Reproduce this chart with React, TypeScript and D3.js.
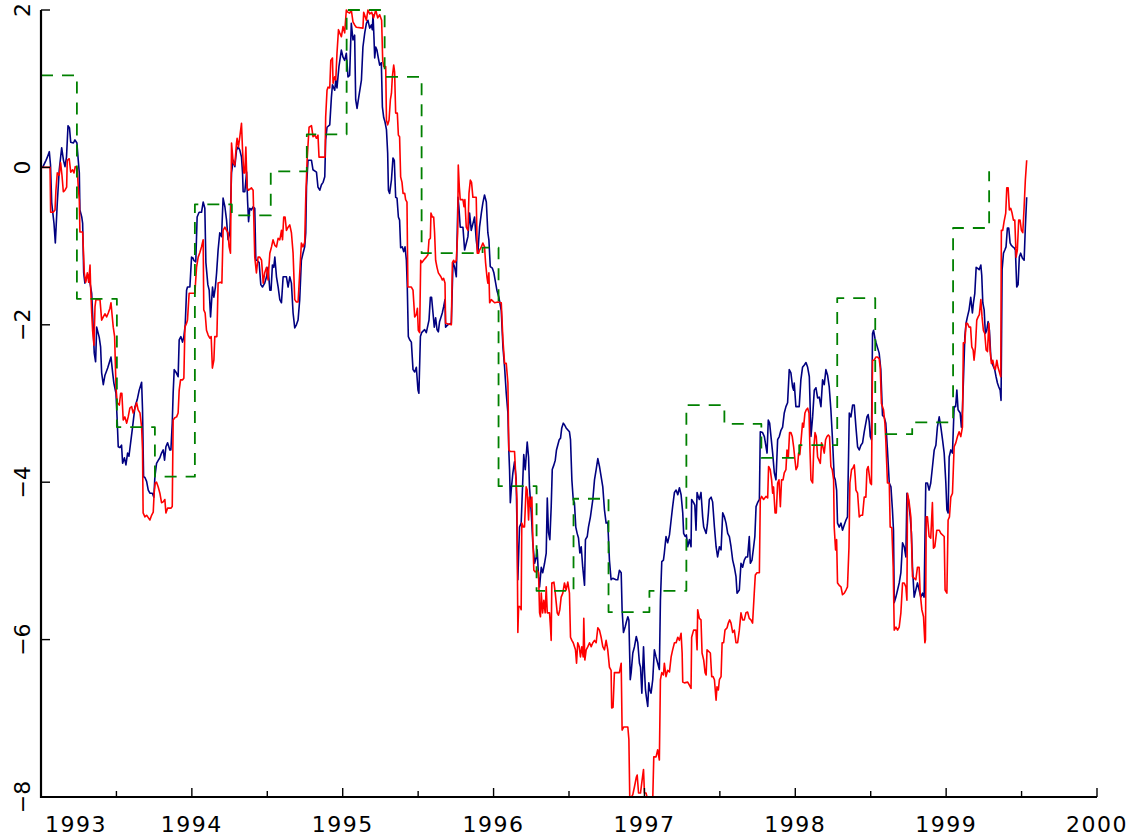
import React, { useEffect } from "react";
import * as d3 from "d3";

const xTickYears = [1993, 1994, 1995, 1996, 1997, 1998, 1999, 2000];
const xMinorTicks = [1993.5, 1994.5, 1995.5, 1996.5, 1997.5, 1998.5, 1999.5];
const yTickValues = [-8, -6, -4, -2, 0, 2];

// quarterly step series (green dashed)
const greenSteps: [number, number][] = [[1993.0,1.17],[1993.238,-1.67],[1993.503,-3.30],[1993.755,-3.93],[1994.020,-0.47],[1994.265,-0.61],[1994.523,-0.05],[1994.762,0.42],[1995.026,2.0],[1995.278,1.15],[1995.523,-1.09],[1995.927,-1.02],[1996.033,-4.05],[1996.285,-5.38],[1996.530,-4.21],[1996.762,-5.65],[1997.033,-5.38],[1997.278,-3.02],[1997.530,-3.26],[1997.775,-3.69],[1998.026,-3.53],[1998.278,-1.66],[1998.530,-3.39],[1998.775,-3.24],[1999.046,-0.77],[1999.285,-0.05]];

// blue series
const blueSeries: [number, number][] = [[1993.011,0.00],[1993.033,0.09],[1993.042,0.13],[1993.055,0.20],[1993.063,0.03],[1993.071,-0.45],[1993.086,-0.71],[1993.095,-0.96],[1993.108,-0.45],[1993.121,-0.03],[1993.137,0.25],[1993.149,0.09],[1993.159,0.01],[1993.169,0.13],[1993.179,0.53],[1993.189,0.50],[1993.197,0.32],[1993.215,0.31],[1993.225,0.35],[1993.238,0.31],[1993.247,0.09],[1993.254,-0.07],[1993.258,-0.54],[1993.270,-0.63],[1993.276,-0.71],[1993.283,-1.34],[1993.291,-1.47],[1993.305,-1.39],[1993.315,-1.37],[1993.325,-1.47],[1993.336,-1.60],[1993.346,-2.03],[1993.353,-2.36],[1993.362,-2.47],[1993.369,-2.03],[1993.386,-2.16],[1993.395,-2.28],[1993.402,-2.61],[1993.413,-2.76],[1993.424,-2.64],[1993.442,-2.55],[1993.464,-2.41],[1993.475,-2.61],[1993.483,-2.74],[1993.497,-2.87],[1993.505,-3.21],[1993.512,-3.55],[1993.523,-3.56],[1993.534,-3.53],[1993.541,-3.76],[1993.553,-3.69],[1993.563,-3.78],[1993.574,-3.63],[1993.583,-3.67],[1993.594,-3.50],[1993.607,-3.30],[1993.623,-3.04],[1993.638,-2.95],[1993.651,-2.83],[1993.667,-2.73],[1993.673,-3.08],[1993.680,-3.93],[1993.689,-3.94],[1993.700,-3.99],[1993.711,-4.10],[1993.722,-4.14],[1993.738,-4.14],[1993.748,-4.19],[1993.755,-3.93],[1993.766,-3.76],[1993.778,-3.72],[1993.788,-3.69],[1993.799,-3.63],[1993.810,-3.59],[1993.819,-3.72],[1993.828,-3.55],[1993.839,-3.50],[1993.854,-3.59],[1993.861,-3.59],[1993.870,-3.25],[1993.876,-2.87],[1993.883,-2.57],[1993.897,-2.61],[1993.909,-2.66],[1993.916,-2.19],[1993.927,-2.15],[1993.938,-2.22],[1993.947,-2.15],[1993.956,-2.00],[1993.965,-1.56],[1993.971,-1.52],[1993.987,-1.52],[1993.998,-1.14],[1994.007,-1.15],[1994.013,-1.18],[1994.026,-1.20],[1994.035,-0.63],[1994.048,-0.57],[1994.064,-0.57],[1994.075,-0.44],[1994.086,-0.52],[1994.093,-1.21],[1994.106,-1.49],[1994.115,-1.56],[1994.124,-1.90],[1994.137,-1.52],[1994.146,-1.65],[1994.156,-1.52],[1994.164,-1.34],[1994.174,-1.05],[1994.185,-0.83],[1994.197,-0.88],[1994.207,-0.39],[1994.219,-0.50],[1994.230,-0.67],[1994.240,-0.92],[1994.252,-0.83],[1994.263,-0.07],[1994.274,0.09],[1994.285,0.01],[1994.296,0.22],[1994.307,0.26],[1994.318,0.22],[1994.329,0.13],[1994.336,-0.07],[1994.340,-0.31],[1994.351,-0.31],[1994.363,-0.06],[1994.369,-0.41],[1994.376,-0.69],[1994.384,-0.52],[1994.395,-0.54],[1994.406,-0.50],[1994.417,-0.52],[1994.424,-1.18],[1994.432,-1.18],[1994.446,-1.21],[1994.457,-1.49],[1994.468,-1.52],[1994.483,-1.47],[1994.495,-1.39],[1994.505,-1.27],[1994.517,-1.56],[1994.525,-1.56],[1994.534,-1.24],[1994.543,-1.27],[1994.550,-1.14],[1994.561,-1.39],[1994.572,-1.52],[1994.583,-1.68],[1994.594,-1.72],[1994.605,-1.39],[1994.627,-1.39],[1994.638,-1.52],[1994.649,-1.39],[1994.660,-1.47],[1994.671,-1.85],[1994.682,-2.04],[1994.693,-2.00],[1994.704,-1.94],[1994.715,-1.68],[1994.726,-1.18],[1994.737,-1.09],[1994.748,-1.01],[1994.755,-0.83],[1994.760,-0.25],[1994.770,0.09],[1994.793,0.09],[1994.803,-0.03],[1994.826,-0.06],[1994.836,-0.25],[1994.848,-0.29],[1994.859,-0.22],[1994.870,-0.19],[1994.881,-0.12],[1994.887,0.35],[1994.896,0.51],[1994.914,0.54],[1994.925,0.89],[1994.932,1.05],[1994.947,0.98],[1994.954,1.11],[1994.962,1.01],[1994.975,1.28],[1994.991,1.49],[1995.002,1.40],[1995.013,1.36],[1995.024,1.45],[1995.035,1.15],[1995.046,1.17],[1995.057,1.83],[1995.068,1.62],[1995.079,1.68],[1995.086,0.86],[1995.095,0.75],[1995.106,0.89],[1995.124,1.11],[1995.134,1.53],[1995.146,1.71],[1995.157,1.83],[1995.167,1.87],[1995.179,1.77],[1995.190,1.81],[1995.196,1.75],[1995.201,1.94],[1995.207,1.66],[1995.212,1.39],[1995.219,1.53],[1995.227,1.49],[1995.236,1.39],[1995.245,1.30],[1995.256,1.33],[1995.263,0.77],[1995.272,0.63],[1995.280,0.58],[1995.290,0.48],[1995.298,0.18],[1995.303,-0.29],[1995.311,-0.33],[1995.323,-0.16],[1995.333,0.12],[1995.342,0.09],[1995.351,-0.38],[1995.360,-0.39],[1995.369,-0.63],[1995.377,-0.67],[1995.384,-1.02],[1995.395,-1.01],[1995.404,-1.07],[1995.413,-1.01],[1995.422,-1.18],[1995.428,-1.52],[1995.435,-2.15],[1995.444,-2.19],[1995.455,-2.22],[1995.466,-2.57],[1995.477,-2.60],[1995.488,-2.54],[1995.499,-2.83],[1995.505,-2.87],[1995.515,-2.15],[1995.523,-2.10],[1995.543,-2.06],[1995.554,-2.10],[1995.572,-1.94],[1995.581,-1.65],[1995.589,-1.65],[1995.607,-2.03],[1995.616,-1.91],[1995.625,-2.06],[1995.634,-2.09],[1995.642,-1.96],[1995.660,-1.85],[1995.669,-1.77],[1995.678,-1.68],[1995.682,-2.03],[1995.697,-2.00],[1995.720,-1.98],[1995.731,-1.21],[1995.742,-1.27],[1995.753,-1.39],[1995.764,-0.38],[1995.770,-0.50],[1995.779,-0.76],[1995.797,-0.76],[1995.808,-1.05],[1995.830,-0.88],[1995.841,-0.58],[1995.852,-0.80],[1995.874,-0.63],[1995.885,-0.92],[1995.896,-1.09],[1995.907,-0.76],[1995.919,-0.58],[1995.929,-0.45],[1995.940,-0.35],[1995.952,-0.44],[1995.962,-0.83],[1995.969,-0.92],[1995.978,-1.26],[1995.992,-1.28],[1996.002,-1.34],[1996.013,-1.46],[1996.022,-1.56],[1996.035,-1.65],[1996.051,-1.82],[1996.062,-2.28],[1996.073,-2.54],[1996.084,-2.87],[1996.095,-3.12],[1996.101,-3.59],[1996.106,-3.84],[1996.111,-4.26],[1996.117,-4.10],[1996.128,-3.88],[1996.139,-3.74],[1996.150,-3.97],[1996.161,-5.24],[1996.172,-4.57],[1996.183,-4.52],[1996.200,-3.65],[1996.210,-3.84],[1996.223,-3.49],[1996.232,-3.68],[1996.238,-4.06],[1996.250,-4.39],[1996.260,-4.77],[1996.272,-5.03],[1996.283,-4.95],[1996.289,-4.86],[1996.298,-5.20],[1996.305,-5.33],[1996.316,-5.08],[1996.326,-5.15],[1996.338,-5.03],[1996.349,-4.90],[1996.356,-4.20],[1996.364,-4.64],[1996.373,-4.73],[1996.382,-4.31],[1996.389,-3.84],[1996.400,-3.78],[1996.409,-3.72],[1996.417,-3.59],[1996.435,-3.46],[1996.444,-3.44],[1996.452,-3.31],[1996.462,-3.25],[1996.470,-3.27],[1996.481,-3.31],[1996.503,-3.36],[1996.510,-3.46],[1996.519,-3.97],[1996.528,-4.22],[1996.536,-4.26],[1996.545,-4.57],[1996.554,-4.65],[1996.563,-4.71],[1996.572,-4.90],[1996.581,-4.82],[1996.591,-5.08],[1996.603,-5.31],[1996.609,-4.73],[1996.621,-4.69],[1996.629,-4.57],[1996.642,-4.44],[1996.658,-4.22],[1996.669,-3.97],[1996.680,-3.84],[1996.691,-3.70],[1996.702,-3.80],[1996.713,-3.93],[1996.724,-4.06],[1996.735,-4.35],[1996.746,-4.52],[1996.757,-4.51],[1996.768,-4.99],[1996.779,-5.24],[1996.790,-5.22],[1996.812,-5.24],[1996.823,-5.24],[1996.834,-5.12],[1996.846,-5.15],[1996.852,-5.62],[1996.861,-5.91],[1996.872,-5.84],[1996.881,-5.77],[1996.890,-5.71],[1996.897,-5.75],[1996.906,-6.51],[1996.912,-6.42],[1996.923,-6.17],[1996.934,-6.09],[1996.946,-5.96],[1996.956,-6.04],[1996.967,-6.30],[1996.974,-6.35],[1996.983,-6.68],[1996.994,-6.09],[1997.000,-6.38],[1997.007,-6.64],[1997.013,-6.73],[1997.022,-6.85],[1997.029,-6.55],[1997.036,-6.64],[1997.044,-6.68],[1997.055,-6.51],[1997.066,-6.13],[1997.077,-6.22],[1997.088,-6.30],[1997.099,-6.38],[1997.106,-5.50],[1997.115,-5.01],[1997.126,-4.99],[1997.132,-4.90],[1997.143,-4.69],[1997.154,-4.77],[1997.166,-4.67],[1997.177,-4.48],[1997.187,-4.31],[1997.199,-4.13],[1997.210,-4.10],[1997.221,-4.16],[1997.232,-4.07],[1997.243,-4.16],[1997.254,-4.39],[1997.260,-4.65],[1997.270,-4.69],[1997.278,-4.67],[1997.287,-4.82],[1997.298,-4.73],[1997.309,-4.82],[1997.313,-4.22],[1997.326,-4.26],[1997.334,-4.29],[1997.342,-4.61],[1997.349,-4.13],[1997.358,-4.19],[1997.364,-4.22],[1997.375,-4.13],[1997.386,-4.44],[1997.393,-4.57],[1997.409,-4.65],[1997.417,-4.54],[1997.424,-4.39],[1997.430,-4.22],[1997.442,-4.19],[1997.452,-4.25],[1997.464,-4.57],[1997.475,-4.82],[1997.485,-4.95],[1997.497,-4.82],[1997.508,-4.86],[1997.519,-4.39],[1997.530,-4.44],[1997.541,-4.52],[1997.552,-4.65],[1997.563,-4.69],[1997.574,-4.82],[1997.585,-4.99],[1997.596,-5.08],[1997.607,-5.20],[1997.614,-5.41],[1997.629,-5.37],[1997.640,-5.03],[1997.651,-5.08],[1997.662,-4.99],[1997.673,-4.95],[1997.684,-4.95],[1997.695,-4.69],[1997.702,-5.03],[1997.713,-4.99],[1997.724,-4.82],[1997.732,-4.69],[1997.740,-4.31],[1997.750,-4.26],[1997.762,-4.22],[1997.768,-3.36],[1997.783,-3.37],[1997.795,-3.42],[1997.806,-3.55],[1997.813,-3.63],[1997.821,-3.21],[1997.830,-3.25],[1997.839,-3.42],[1997.850,-3.63],[1997.861,-3.88],[1997.872,-3.97],[1997.883,-3.46],[1997.894,-3.42],[1997.905,-3.34],[1997.916,-3.30],[1997.927,-3.12],[1997.938,-3.04],[1997.949,-2.99],[1997.960,-2.57],[1997.971,-2.61],[1997.982,-2.79],[1997.989,-2.83],[1997.993,-2.74],[1998.004,-3.04],[1998.026,-3.04],[1998.037,-2.70],[1998.048,-2.54],[1998.060,-2.51],[1998.071,-2.48],[1998.082,-2.54],[1998.093,-2.66],[1998.104,-3.42],[1998.115,-3.17],[1998.126,-2.83],[1998.137,-2.80],[1998.148,-2.93],[1998.159,-2.92],[1998.170,-3.04],[1998.181,-2.70],[1998.192,-2.76],[1998.203,-2.57],[1998.214,-2.64],[1998.225,-2.79],[1998.236,-3.08],[1998.247,-3.47],[1998.258,-3.93],[1998.265,-3.97],[1998.274,-4.10],[1998.280,-4.52],[1998.291,-4.57],[1998.303,-4.52],[1998.313,-4.61],[1998.325,-4.54],[1998.336,-4.48],[1998.346,-4.44],[1998.358,-3.12],[1998.369,-3.17],[1998.380,-3.02],[1998.391,-3.02],[1998.402,-3.30],[1998.413,-3.55],[1998.424,-3.59],[1998.435,-3.53],[1998.446,-3.50],[1998.457,-3.36],[1998.475,-3.17],[1998.483,-3.14],[1998.490,-3.23],[1998.497,-3.42],[1998.505,-3.46],[1998.512,-2.11],[1998.519,-2.07],[1998.528,-2.17],[1998.536,-2.23],[1998.545,-2.29],[1998.556,-2.36],[1998.567,-2.57],[1998.578,-3.15],[1998.589,-3.17],[1998.600,-3.25],[1998.611,-3.59],[1998.623,-4.01],[1998.634,-4.06],[1998.644,-4.35],[1998.651,-4.61],[1998.656,-5.53],[1998.667,-5.46],[1998.678,-5.37],[1998.689,-5.28],[1998.700,-5.15],[1998.711,-4.77],[1998.722,-4.82],[1998.733,-4.95],[1998.740,-4.14],[1998.750,-4.22],[1998.762,-4.44],[1998.770,-4.65],[1998.777,-5.08],[1998.788,-5.46],[1998.799,-5.37],[1998.810,-5.28],[1998.821,-5.37],[1998.832,-5.46],[1998.844,-5.41],[1998.854,-5.46],[1998.865,-4.01],[1998.876,-4.01],[1998.887,-4.10],[1998.898,-4.01],[1998.909,-3.81],[1998.921,-3.59],[1998.932,-3.53],[1998.942,-3.30],[1998.954,-3.17],[1998.965,-3.30],[1998.976,-3.46],[1998.987,-3.63],[1998.998,-4.01],[1999.005,-4.35],[1999.013,-4.39],[1999.020,-3.68],[1999.031,-3.59],[1999.042,-3.63],[1999.053,-3.04],[1999.063,-3.04],[1999.071,-2.83],[1999.079,-3.08],[1999.093,-3.12],[1999.101,-3.30],[1999.108,-3.08],[1999.114,-2.74],[1999.124,-2.15],[1999.132,-1.98],[1999.141,-1.90],[1999.152,-1.81],[1999.163,-1.65],[1999.174,-1.85],[1999.181,-1.72],[1999.190,-1.60],[1999.199,-1.27],[1999.207,-1.28],[1999.219,-1.30],[1999.230,-1.24],[1999.236,-1.37],[1999.243,-1.72],[1999.252,-1.81],[1999.260,-2.11],[1999.269,-2.07],[1999.278,-1.96],[1999.287,-2.07],[1999.296,-2.41],[1999.305,-2.49],[1999.322,-2.57],[1999.331,-2.66],[1999.340,-2.74],[1999.349,-2.79],[1999.358,-2.83],[1999.364,-2.96],[1999.371,-1.30],[1999.380,-1.09],[1999.389,-1.05],[1999.397,-1.01],[1999.406,-0.77],[1999.415,-0.77],[1999.424,-0.96],[1999.432,-0.99],[1999.442,-1.01],[1999.450,-1.02],[1999.459,-1.05],[1999.468,-1.52],[1999.477,-1.49],[1999.485,-1.14],[1999.494,-1.09],[1999.505,-1.15],[1999.517,-1.18],[1999.525,-0.76],[1999.534,-0.38]];

// red series
const redSeries: [number, number][] = [[1993.005,0.00],[1993.060,0.00],[1993.064,-0.57],[1993.081,-0.57],[1993.093,-0.54],[1993.099,-0.29],[1993.108,-0.07],[1993.121,-0.10],[1993.130,0.06],[1993.139,-0.10],[1993.148,-0.31],[1993.159,-0.29],[1993.170,-0.25],[1993.174,0.09],[1993.187,0.11],[1993.197,-0.06],[1993.210,-0.03],[1993.219,-0.07],[1993.227,0.01],[1993.240,-0.01],[1993.247,-0.25],[1993.254,-0.41],[1993.258,-0.82],[1993.276,-0.82],[1993.281,-1.05],[1993.287,-1.34],[1993.296,-1.46],[1993.307,-1.34],[1993.316,-1.46],[1993.325,-1.24],[1993.329,-1.52],[1993.336,-1.85],[1993.342,-2.07],[1993.351,-2.26],[1993.358,-1.77],[1993.364,-1.68],[1993.391,-1.68],[1993.402,-1.94],[1993.413,-1.90],[1993.424,-1.86],[1993.435,-1.90],[1993.446,-1.85],[1993.457,-1.79],[1993.464,-1.72],[1993.470,-1.85],[1993.479,-2.03],[1993.488,-2.15],[1993.497,-2.79],[1993.505,-2.99],[1993.519,-3.02],[1993.528,-2.87],[1993.536,-2.87],[1993.545,-3.21],[1993.556,-3.17],[1993.568,-3.25],[1993.578,-3.17],[1993.589,-3.06],[1993.601,-3.04],[1993.611,-3.12],[1993.623,-3.06],[1993.634,-2.99],[1993.644,-3.08],[1993.656,-3.12],[1993.667,-3.30],[1993.673,-3.59],[1993.677,-4.39],[1993.689,-4.44],[1993.700,-4.42],[1993.711,-4.45],[1993.722,-4.48],[1993.733,-4.42],[1993.744,-4.38],[1993.750,-4.14],[1993.757,-4.01],[1993.766,-4.00],[1993.777,-4.06],[1993.788,-4.14],[1993.799,-4.26],[1993.810,-4.25],[1993.821,-4.22],[1993.828,-4.39],[1993.839,-4.33],[1993.861,-4.33],[1993.870,-4.31],[1993.876,-3.21],[1993.887,-3.18],[1993.899,-3.17],[1993.909,-3.12],[1993.916,-2.83],[1993.925,-2.70],[1993.938,-2.70],[1993.947,-2.68],[1993.954,-2.03],[1993.965,-1.98],[1993.971,-1.94],[1993.982,-1.60],[1994.020,-1.60],[1994.031,-1.27],[1994.042,-1.14],[1994.053,-1.08],[1994.064,-1.01],[1994.075,-0.92],[1994.079,-1.81],[1994.088,-1.85],[1994.097,-2.07],[1994.108,-2.13],[1994.119,-2.17],[1994.128,-2.15],[1994.136,-2.55],[1994.146,-2.45],[1994.152,-2.15],[1994.166,-2.15],[1994.174,-1.47],[1994.190,-1.46],[1994.199,-1.47],[1994.207,-0.80],[1994.219,-0.76],[1994.230,-0.80],[1994.240,-0.83],[1994.247,-1.01],[1994.256,-1.09],[1994.263,0.31],[1994.274,0.06],[1994.285,0.03],[1994.296,0.31],[1994.300,0.37],[1994.309,0.26],[1994.318,0.39],[1994.329,0.56],[1994.336,0.22],[1994.344,-0.07],[1994.351,-0.07],[1994.358,0.26],[1994.366,-0.26],[1994.376,-0.29],[1994.395,-0.26],[1994.406,-0.29],[1994.417,-1.14],[1994.428,-1.34],[1994.439,-1.14],[1994.450,-1.14],[1994.462,-1.18],[1994.473,-1.47],[1994.483,-1.34],[1994.495,-1.27],[1994.505,-1.43],[1994.517,-1.09],[1994.528,-1.01],[1994.538,-0.92],[1994.550,-0.99],[1994.561,-1.01],[1994.572,-0.90],[1994.583,-0.92],[1994.594,-0.80],[1994.601,-0.92],[1994.609,-0.63],[1994.618,-0.63],[1994.627,-0.80],[1994.638,-0.76],[1994.649,-0.73],[1994.660,-0.83],[1994.671,-1.09],[1994.682,-1.68],[1994.693,-1.71],[1994.704,-1.71],[1994.715,-1.34],[1994.726,-0.96],[1994.737,-1.01],[1994.748,-0.95],[1994.755,-0.38],[1994.764,0.09],[1994.777,0.51],[1994.793,0.53],[1994.803,0.39],[1994.815,0.41],[1994.826,0.37],[1994.836,0.41],[1994.843,0.13],[1994.883,0.13],[1994.887,0.64],[1994.896,0.98],[1994.903,1.02],[1994.914,1.01],[1994.921,1.36],[1994.932,1.39],[1994.936,1.07],[1994.947,1.15],[1994.954,1.11],[1994.962,1.45],[1994.972,1.75],[1994.980,1.71],[1994.991,1.66],[1995.002,1.79],[1995.013,1.71],[1995.024,2.00],[1995.035,1.97],[1995.046,1.96],[1995.057,2.00],[1995.068,1.85],[1995.079,1.81],[1995.090,1.78],[1995.134,1.77],[1995.139,1.97],[1995.157,1.87],[1995.167,2.00],[1995.179,1.95],[1995.192,1.97],[1995.205,1.90],[1995.219,2.00],[1995.232,1.90],[1995.245,1.94],[1995.258,1.87],[1995.265,1.36],[1995.272,1.28],[1995.285,1.28],[1995.290,0.60],[1995.298,0.54],[1995.307,0.60],[1995.316,0.86],[1995.323,0.94],[1995.329,1.15],[1995.338,1.30],[1995.344,1.21],[1995.351,0.69],[1995.362,0.69],[1995.369,0.41],[1995.377,0.39],[1995.384,-0.12],[1995.393,-0.19],[1995.400,-0.33],[1995.411,-0.33],[1995.417,-0.41],[1995.426,-0.44],[1995.432,-1.52],[1995.455,-1.52],[1995.466,-1.56],[1995.477,-1.90],[1995.488,-1.87],[1995.495,-1.79],[1995.501,-2.07],[1995.510,-2.10],[1995.517,-1.18],[1995.525,-1.21],[1995.536,-1.18],[1995.554,-1.14],[1995.565,-1.11],[1995.572,-0.92],[1995.581,-0.90],[1995.585,-0.58],[1995.594,-0.63],[1995.603,-0.63],[1995.609,-0.83],[1995.616,-1.18],[1995.625,-1.27],[1995.634,-1.34],[1995.651,-1.39],[1995.660,-1.43],[1995.669,-1.41],[1995.678,-1.47],[1995.682,-1.98],[1995.720,-2.00],[1995.727,-1.21],[1995.735,-1.18],[1995.744,-1.21],[1995.753,-1.18],[1995.762,-0.83],[1995.766,0.03],[1995.773,-0.25],[1995.779,-0.41],[1995.797,-0.41],[1995.804,-0.50],[1995.810,-0.41],[1995.819,-0.76],[1995.830,-0.80],[1995.837,-0.33],[1995.846,-0.16],[1995.854,-0.19],[1995.863,-0.38],[1995.885,-0.38],[1995.892,-1.09],[1995.901,-1.09],[1995.907,-1.05],[1995.919,-1.01],[1995.929,-0.96],[1995.940,-1.01],[1995.947,-1.21],[1995.956,-1.39],[1995.962,-1.47],[1995.969,-1.34],[1995.974,-1.72],[1995.985,-1.68],[1996.007,-1.72],[1996.029,-1.71],[1996.051,-1.72],[1996.062,-2.19],[1996.073,-2.49],[1996.084,-2.49],[1996.095,-2.74],[1996.101,-3.59],[1996.111,-3.61],[1996.139,-3.61],[1996.146,-3.88],[1996.155,-4.22],[1996.157,-4.82],[1996.161,-5.91],[1996.166,-5.58],[1996.175,-5.58],[1996.183,-5.62],[1996.187,-4.52],[1996.197,-4.57],[1996.205,-4.57],[1996.216,-4.06],[1996.223,-4.10],[1996.232,-4.48],[1996.238,-4.19],[1996.245,-4.31],[1996.254,-4.19],[1996.260,-4.70],[1996.267,-5.12],[1996.276,-5.14],[1996.289,-5.12],[1996.298,-5.15],[1996.305,-5.66],[1996.311,-5.71],[1996.316,-5.41],[1996.325,-5.66],[1996.333,-5.50],[1996.342,-5.66],[1996.349,-5.33],[1996.356,-5.66],[1996.371,-5.66],[1996.377,-5.84],[1996.382,-6.01],[1996.386,-5.28],[1996.400,-5.27],[1996.409,-5.41],[1996.422,-5.66],[1996.430,-5.69],[1996.439,-5.62],[1996.448,-5.46],[1996.459,-5.41],[1996.470,-5.28],[1996.481,-5.37],[1996.492,-5.27],[1996.503,-5.41],[1996.510,-5.97],[1996.519,-6.01],[1996.528,-6.04],[1996.543,-6.13],[1996.550,-6.30],[1996.558,-6.04],[1996.568,-6.09],[1996.576,-6.22],[1996.585,-6.09],[1996.594,-6.22],[1996.598,-5.73],[1996.605,-6.26],[1996.614,-6.13],[1996.625,-6.09],[1996.636,-6.04],[1996.647,-6.09],[1996.658,-6.04],[1996.669,-6.01],[1996.680,-6.04],[1996.691,-5.85],[1996.702,-5.88],[1996.713,-5.97],[1996.724,-6.09],[1996.735,-6.13],[1996.746,-6.01],[1996.757,-6.13],[1996.768,-6.35],[1996.779,-6.39],[1996.783,-6.87],[1996.792,-6.86],[1996.801,-6.42],[1996.834,-6.42],[1996.846,-6.30],[1996.852,-7.15],[1996.863,-7.11],[1996.890,-7.11],[1996.897,-7.27],[1996.903,-8.04],[1996.923,-7.97],[1996.934,-7.87],[1996.946,-7.75],[1996.952,-7.72],[1996.961,-7.95],[1996.974,-7.95],[1996.985,-7.78],[1996.994,-7.65],[1997.000,-7.95],[1997.011,-7.95],[1997.022,-8.04],[1997.055,-8.04],[1997.062,-7.49],[1997.077,-7.49],[1997.088,-7.40],[1997.099,-7.53],[1997.106,-6.51],[1997.115,-6.42],[1997.126,-6.45],[1997.132,-6.30],[1997.143,-6.47],[1997.154,-6.39],[1997.166,-6.41],[1997.177,-6.22],[1997.187,-6.13],[1997.199,-6.04],[1997.210,-6.04],[1997.221,-5.97],[1997.232,-6.01],[1997.243,-5.92],[1997.250,-6.17],[1997.254,-6.54],[1997.265,-6.55],[1997.287,-6.54],[1997.298,-6.58],[1997.309,-6.62],[1997.313,-5.97],[1997.326,-5.88],[1997.342,-5.88],[1997.349,-6.13],[1997.353,-5.62],[1997.364,-5.73],[1997.375,-5.75],[1997.382,-6.17],[1997.393,-6.26],[1997.402,-6.42],[1997.409,-6.45],[1997.415,-6.13],[1997.437,-6.17],[1997.446,-6.47],[1997.455,-6.47],[1997.464,-6.51],[1997.475,-6.77],[1997.481,-6.60],[1997.490,-6.64],[1997.497,-6.51],[1997.508,-6.47],[1997.515,-6.04],[1997.525,-6.04],[1997.534,-5.88],[1997.548,-5.85],[1997.556,-5.79],[1997.565,-5.75],[1997.574,-5.79],[1997.585,-5.91],[1997.596,-5.88],[1997.607,-6.04],[1997.618,-6.04],[1997.629,-5.88],[1997.640,-5.66],[1997.651,-5.75],[1997.662,-5.75],[1997.673,-5.66],[1997.684,-5.65],[1997.695,-5.73],[1997.706,-5.75],[1997.717,-5.79],[1997.728,-5.41],[1997.735,-5.18],[1997.746,-5.15],[1997.762,-5.15],[1997.768,-4.22],[1997.777,-4.18],[1997.790,-4.22],[1997.806,-4.18],[1997.817,-4.20],[1997.823,-3.80],[1997.834,-3.84],[1997.843,-3.97],[1997.850,-4.14],[1997.856,-4.06],[1997.866,-4.39],[1997.874,-4.39],[1997.883,-4.01],[1997.892,-3.97],[1997.901,-4.31],[1997.909,-3.97],[1997.919,-3.97],[1997.927,-3.88],[1997.938,-3.84],[1997.945,-3.59],[1997.954,-3.68],[1997.962,-3.37],[1997.971,-3.37],[1997.980,-3.42],[1997.989,-3.55],[1997.998,-3.72],[1998.005,-3.84],[1998.015,-3.80],[1998.022,-3.63],[1998.030,-3.65],[1998.037,-3.50],[1998.048,-3.25],[1998.055,-3.30],[1998.064,-3.12],[1998.073,-3.08],[1998.082,-3.06],[1998.091,-3.12],[1998.098,-3.63],[1998.104,-3.97],[1998.115,-4.01],[1998.122,-3.59],[1998.131,-3.37],[1998.139,-3.42],[1998.148,-3.68],[1998.157,-3.72],[1998.166,-3.76],[1998.174,-3.50],[1998.183,-3.55],[1998.192,-3.63],[1998.201,-3.46],[1998.210,-3.42],[1998.219,-3.40],[1998.227,-3.42],[1998.236,-3.80],[1998.245,-3.84],[1998.254,-3.97],[1998.258,-4.57],[1998.267,-4.86],[1998.274,-4.73],[1998.280,-5.28],[1998.291,-5.31],[1998.303,-5.33],[1998.313,-5.43],[1998.325,-5.41],[1998.336,-5.37],[1998.346,-5.33],[1998.356,-4.82],[1998.362,-4.01],[1998.373,-3.84],[1998.382,-3.82],[1998.391,-3.78],[1998.397,-3.93],[1998.402,-4.10],[1998.413,-4.14],[1998.424,-4.44],[1998.435,-4.42],[1998.446,-4.42],[1998.457,-4.19],[1998.468,-4.19],[1998.475,-3.84],[1998.483,-3.80],[1998.497,-4.01],[1998.505,-4.03],[1998.512,-2.45],[1998.523,-2.45],[1998.534,-2.41],[1998.545,-2.41],[1998.556,-2.43],[1998.563,-2.54],[1998.571,-3.00],[1998.585,-3.08],[1998.594,-3.25],[1998.600,-3.47],[1998.611,-4.01],[1998.623,-4.01],[1998.629,-4.57],[1998.640,-4.58],[1998.649,-5.08],[1998.656,-5.88],[1998.667,-5.84],[1998.678,-5.88],[1998.689,-5.84],[1998.700,-5.66],[1998.711,-5.28],[1998.722,-5.28],[1998.733,-5.33],[1998.740,-5.50],[1998.744,-4.14],[1998.755,-4.26],[1998.766,-4.44],[1998.777,-5.20],[1998.799,-5.24],[1998.810,-5.08],[1998.821,-5.08],[1998.828,-5.41],[1998.839,-5.62],[1998.850,-5.71],[1998.859,-6.04],[1998.863,-6.00],[1998.868,-4.44],[1998.876,-4.44],[1998.887,-4.69],[1998.898,-4.71],[1998.909,-4.26],[1998.916,-4.84],[1998.925,-4.82],[1998.938,-4.61],[1998.954,-4.61],[1998.965,-4.65],[1998.987,-4.69],[1998.993,-5.37],[1999.005,-5.41],[1999.013,-4.48],[1999.022,-4.44],[1999.031,-4.19],[1999.042,-4.14],[1999.053,-3.55],[1999.064,-3.50],[1999.075,-3.42],[1999.086,-3.36],[1999.097,-3.42],[1999.108,-3.30],[1999.114,-2.23],[1999.124,-2.23],[1999.132,-1.98],[1999.141,-1.98],[1999.152,-2.03],[1999.162,-2.03],[1999.170,-2.28],[1999.179,-2.32],[1999.185,-2.45],[1999.194,-2.28],[1999.203,-1.94],[1999.212,-1.90],[1999.220,-1.87],[1999.230,-1.68],[1999.238,-1.90],[1999.247,-2.07],[1999.256,-2.11],[1999.265,-2.32],[1999.274,-2.34],[1999.283,-1.98],[1999.291,-2.32],[1999.300,-2.49],[1999.309,-2.45],[1999.318,-2.54],[1999.326,-2.57],[1999.336,-2.45],[1999.344,-2.54],[1999.353,-2.60],[1999.362,-2.66],[1999.366,-0.80],[1999.375,-0.80],[1999.384,-0.69],[1999.395,-0.58],[1999.402,-0.26],[1999.411,-0.26],[1999.419,-0.54],[1999.428,-0.52],[1999.437,-0.58],[1999.446,-0.67],[1999.455,-0.67],[1999.464,-1.14],[1999.472,-1.05],[1999.481,-0.67],[1999.490,-0.67],[1999.499,-0.80],[1999.508,-0.83],[1999.517,-0.50],[1999.525,-0.16],[1999.534,0.09]];

const W = 1137;
const H = 840;
const FONT = "'DejaVu Sans', Arial, sans-serif";

export default function App() {
  useEffect(() => {
    document.body.style.margin = "0";
    document.body.style.background = "#ffffff";
  }, []);

  const x = d3.scaleLinear().domain([1993, 2000]).range([41, 1097]);
  const y = d3.scaleLinear().domain([-8, 2]).range([797, 10]);
  const [x0, x1] = x.range();
  const [yb, yt] = y.range();

  const line = d3
    .line<[number, number]>()
    .x((d) => x(d[0]))
    .y((d) => y(d[1]));
  const stepLine = d3
    .line<[number, number]>()
    .curve(d3.curveStepAfter)
    .x((d) => x(d[0]))
    .y((d) => y(d[1]));

  const fmt = (v: number) => (v < 0 ? "\u2212" + Math.abs(v) : String(v));

  return (
    <svg
      width={W}
      height={H}
      viewBox={`0 0 ${W} ${H}`}
      style={{ display: "block", position: "absolute", left: 0, top: 0, background: "#fff" }}
    >
      <defs>
        <clipPath id="plotClip">
          <rect x={x0} y={0} width={x1 - x0} height={yb} />
        </clipPath>
      </defs>
      <g clipPath="url(#plotClip)" fill="none" strokeLinejoin="round">
        <path d={line(blueSeries) || ""} stroke="#000080" strokeWidth={1.6} />
        <path d={line(redSeries) || ""} stroke="#ff0000" strokeWidth={1.6} />
        <path
          d={stepLine(greenSteps) || ""}
          stroke="#008000"
          strokeWidth={1.8}
          strokeDasharray="12,9"
        />
      </g>

      {/* axes */}
      <g stroke="#000" fill="none">
        <line x1={x0} y1={yt} x2={x0} y2={yb + 1} strokeWidth={2.2} />
        <line x1={x0 - 1} y1={yb} x2={x1} y2={yb} strokeWidth={2.2} />
        {xTickYears.map((t) => (
          <line key={"xt" + t} x1={x(t)} x2={x(t)} y1={yb} y2={yb - 9} strokeWidth={1.4} />
        ))}
        {xMinorTicks.map((t) => (
          <line key={"xm" + t} x1={x(t)} x2={x(t)} y1={yb} y2={yb - 6} strokeWidth={1.4} />
        ))}
        {yTickValues.map((v) => (
          <line key={"yt" + v} x1={x0} x2={x0 + 9} y1={y(v)} y2={y(v)} strokeWidth={1.4} />
        ))}
      </g>

      {/* x labels */}
      <g fontFamily={FONT} fontSize={22} fill="#000" letterSpacing={1.5}>
        {xTickYears.map((t, i) => (
          <text
            key={"xl" + t}
            x={i === 0 ? x(t) + 35 : x(t)}
            y={832}
            textAnchor="middle"
          >
            {String(t)}
          </text>
        ))}
      </g>

      {/* y labels */}
      <g fontFamily={FONT} fontSize={22} fill="#000">
        {yTickValues.map((v) => (
          <text
            key={"yl" + v}
            transform={`translate(30, ${y(v)}) rotate(-90)`}
            textAnchor="middle"
          >
            {fmt(v)}
          </text>
        ))}
      </g>
    </svg>
  );
}
